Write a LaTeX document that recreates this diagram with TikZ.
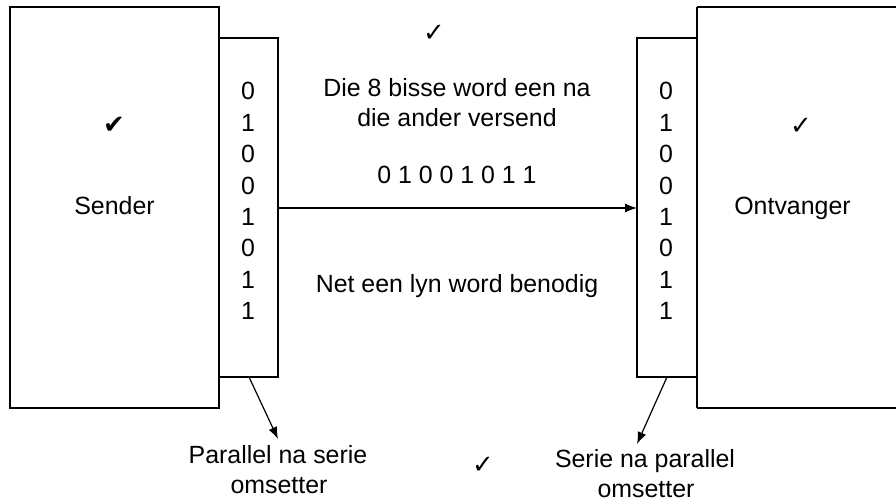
\documentclass[tikz,border=0pt]{standalone}
\usepackage{fontspec}
\usetikzlibrary{arrows.meta}
\setmainfont{Liberation Sans}
\newfontfamily\symfont{DejaVu Sans}
\begin{document}
\begin{tikzpicture}[x=1bp,y=-1bp,
  box/.style={draw,line width=1.2bp},
  txt/.style={font=\fontsize{25}{30}\selectfont,inner sep=0pt,anchor=base},
  chk/.style={font=\symfont\fontsize{26}{26}\selectfont,inner sep=0pt},
  conn/.style={line width=1.2bp,-{Latex[length=12bp,width=9bp]}}]
\useasboundingbox (0,0) rectangle (896,502);
\fill[white] (0,0) rectangle (896,502);
% boxes
\draw[box] (10,7) rectangle (219,408);
\draw[box] (219,38) rectangle (278,377);
\coordinate (lb) at (278,208);
\draw[box] (697,7) -- (900,7);
\draw[box] (697,408) -- (900,408);
\draw[box] (697,7) -- (697,408);
\draw[box] (637,38) rectangle (697,377);
\coordinate (rb) at (637,208);
% digits
\foreach \d [count=\i from 0] in {0,1,0,0,1,0,1,1} {
  \node[txt] (l\i) at (248,100+31.4*\i) {\d};
  \node[txt] (r\i) at (666,100+31.4*\i) {\d};
}
\node[txt] (snd) at (114.5,215) {Sender};
\node[txt] (ont) at (792.5,215) {Ontvanger};
\node[chk] (c1) at (114,125.5) {✔};
\node[chk] (c2) at (801,126) {✓};
\node[chk] (c3) at (434,33.5) {✓};
\node[chk] (c4) at (483,465) {✓};
\node[txt] (t1a) at (457,97) {Die 8 bisse word een na};
\node[txt] (t1b) at (457,127) {die ander versend};
\node[txt] (t2) at (457,184) {0 1 0 0 1 0 1 1};
\node[txt] (t3) at (457,293) {Net een lyn word benodig};
\node[txt] (p1a) at (278,463) {Parallel na serie};
\node[txt] (p1b) at (279,493) {omsetter};
\node[txt] (p2a) at (645,467) {Serie na parallel};
\node[txt] (p2b) at (646,497) {omsetter};
% connectors
\coordinate (la) at (249,377);
\coordinate (ra) at (667,377);
\coordinate (lt) at (278,439);
\coordinate (rt) at (637,444);
\draw[conn] (lb) -- (rb);
\draw[conn] (la) -- (lt);
\draw[conn] (ra) -- (rt);
\end{tikzpicture}
\end{document}
